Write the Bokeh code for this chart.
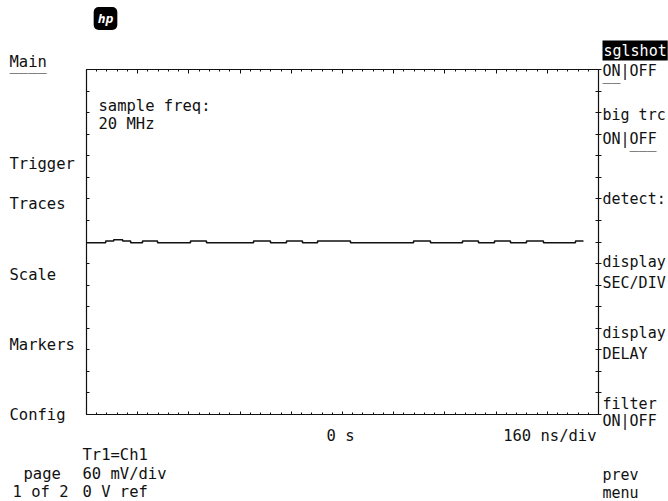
from bokeh.plotting import figure
from bokeh.models import Label, FixedTicker, LinearAxis, Range1d
from bokeh.embed import file_html
from bokeh.resources import INLINE

# ---- data (time in ns, voltage in mV) ----
t_ns = [-800, -740, -715, -687, -662, -625, -578, -475, -425, -278, -225, -175,
        -125, -78, 25, 222, 275, 375, 425, 475, 525, 575, 628, 728, 753]
v_mv = [-1.0, 1.4, 3.0, 1.4, -1.0, 1.4, -1.0, 1.4, -1.0, 1.4, -1.0, 1.4,
        -1.0, 1.4, -1.0, 1.4, -1.0, 1.4, -1.0, 1.4, -1.0, 1.4, -1.0, 1.4, 1.4]

x_major = list(range(-800, 801, 160))
x_minor = list(range(-800, 801, 32))
y_ticks = list(range(-240, 241, 30))

left_menu = ["Main", "Trigger", "Traces", "Scale", "Markers", "Config"]
right_menu = ["sglshot", "ON|OFF", "big trc", "ON|OFF", "detect:", "display", "SEC/DIV",
              "display", "DELAY", "filter", "ON|OFF", "prev", "menu"]

FONT = "DejaVu Sans Mono"
FS = "15.5px"
FS_R = "15px"
INK = "#111111"

W, H = 668, 501
GL, GR, GT, GB = 86, 598, 69, 414      # graticule edges in page pixels
XPX = 1600.0 / (GR - GL)               # ns per pixel
YPX = 480.0 / (GB - GT)                # mV per pixel

p = figure(width=W, height=H,
           x_range=Range1d(-800 - GL * XPX, 800 + (W - GR) * XPX),
           y_range=Range1d(-240 - (H - GB) * YPX, 240 + GT * YPX),
           output_backend="svg", toolbar_location=None,
           x_axis_location=None, y_axis_location=None,
           min_border=0)
p.xgrid.grid_line_color = None
p.ygrid.grid_line_color = None
p.outline_line_color = None
p.background_fill_color = "white"
p.border_fill_color = "white"


def mk_axis(ticks, minor, tin, tout, mtin, loc, bounds):
    ax = LinearAxis(ticker=FixedTicker(ticks=ticks, minor_ticks=minor),
                    major_label_overrides={t: "" for t in ticks},
                    major_label_standoff=0,
                    major_tick_in=tin, major_tick_out=tout,
                    minor_tick_in=mtin, minor_tick_out=0,
                    axis_line_color=INK, axis_line_width=1.2,
                    major_tick_line_color=INK, minor_tick_line_color=INK,
                    fixed_location=loc, bounds=bounds)
    return ax


p.add_layout(mk_axis(x_major, x_minor, 4, 0, 2, 240, (-800, 800)), "above")
p.add_layout(mk_axis(x_major, x_minor, 3, 0, 2, -240, (-800, 800)), "below")
p.add_layout(mk_axis(y_ticks, [], 3, 0, 0, -800, (-240, 240)), "left")
p.add_layout(mk_axis(y_ticks, [], 3, 3, 0, 800, (-240, 240)), "right")

p.step(x=t_ns, y=v_mv, mode="after", line_color=INK, line_width=1.5)


# helpers: convert reference pixel position to data coordinates
def dx(X):
    return -800 + (X - GL) * XPX


def dy(Y):
    return 240 - (Y - GT) * YPX


def lab(X, Yb, text, align="left", color=INK, size=FS, baseline="alphabetic", **kw):
    p.add_layout(Label(x=dx(X), y=dy(Yb), text=text, text_font=FONT, text_font_size=size,
                       text_color=color, text_align=align, text_baseline=baseline, **kw))


# left soft keys
for name, yb in zip(left_menu, [61, 163, 203, 274, 344, 414]):
    lab(9, yb, name)
lab(9, 64, "____")

# in-graticule annotation
lab(98, 105, "sample freq:")
lab(98, 123, "20 MHz")

# time axis annotation
lab(340, 435, "0 s", align="center")
lab(596, 435, "160 ns/div", align="right")

# bottom left status
lab(82, 454, "Tr1=Ch1")
lab(23, 473, "page")
lab(82, 473, "60 mV/div")
lab(12, 491, "1 of 2")
lab(82, 491, "0 V ref")

# right soft keys
right_y = [50, 70, 114, 138, 198, 261, 282, 332, 353, 403, 420, 474, 492]
for name, yb in zip(right_menu, right_y):
    if name == "sglshot":
        lab(602, yb, name, color="white", size=FS_R, background_fill_color="black", padding=1)
    else:
        lab(602, yb, name, size=FS_R)
lab(602, 74, "__", size=FS_R)
lab(629, 142, "___", size=FS_R)

# HP logo
lab(105, 18, "hp", align="center", baseline="middle", color="white", size="13px",
    text_font_style="bold italic", background_fill_color="black", padding=4, border_radius=5)

open("out.html", "w").write(file_html(p, INLINE))
